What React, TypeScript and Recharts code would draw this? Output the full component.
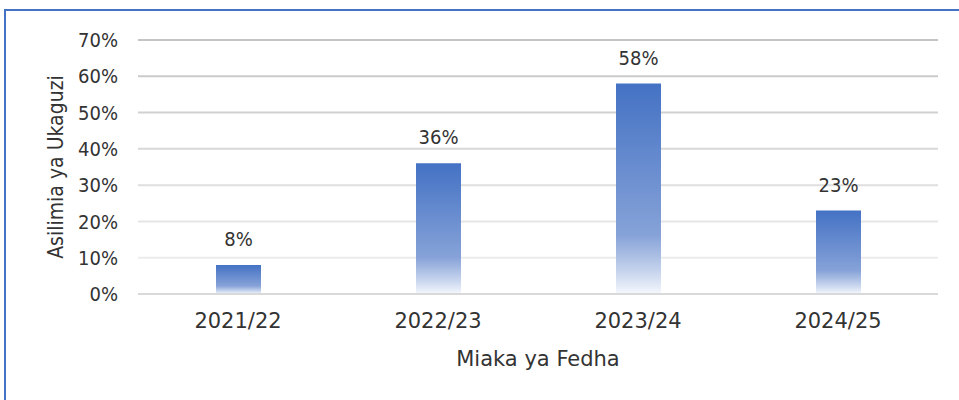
import { BarChart, Bar, XAxis, YAxis, CartesianGrid, LabelList, Label } from "recharts";

const years = ["2021/22", "2022/23", "2023/24", "2024/25"];
const auditPct = [8, 36, 58, 23];
const yTicks = [0, 10, 20, 30, 40, 50, 60, 70];

const data = years.map((y, i) => ({ year: y, pct: auditPct[i] }));

const NARROW = "'DejaVu Sans Condensed', 'DejaVu Sans', sans-serif";
const WIDE = "'DejaVu Sans', sans-serif";
const TEXT = "#333333";
const FRAME = "#4472C4";

export default function App() {
  return (
    <div style={{ position: "fixed", left: 0, top: 0, width: 959, height: 400, overflow: "hidden", background: "#fff" }}>
      {/* chart frame, only top and left edges are in view */}
      <div style={{ position: "absolute", left: 4, top: 9, width: 955, height: 2, background: FRAME }} />
      <div style={{ position: "absolute", left: 4, top: 9, width: 2, height: 391, background: FRAME }} />
      <div style={{ position: "absolute", left: 0, top: 0 }}>
        <BarChart width={959} height={400} data={data} margin={{ top: 40, right: 21, bottom: 76, left: 78 }}>
          <defs>
            <linearGradient id="barFill" x1="0" y1="0" x2="0" y2="1">
              <stop offset="0" stopColor="#4472C4" />
              <stop offset="0.72" stopColor="#86A2D8" />
              <stop offset="0.9" stopColor="#C9D6EE" />
              <stop offset="1" stopColor="#F5F8FD" />
            </linearGradient>
            <linearGradient id="gridStroke" gradientUnits="userSpaceOnUse" x1="0" y1="40" x2="0" y2="294">
              <stop offset="0" stopColor="#c4c4c4" />
              <stop offset="1" stopColor="#f2f2f2" />
            </linearGradient>
          </defs>
          <CartesianGrid vertical={false} stroke="url(#gridStroke)" strokeWidth={2} />
          <XAxis
            dataKey="year"
            axisLine={{ stroke: "#d9d9d9", strokeWidth: 2 }}
            tickLine={false}
            tickSize={0}
            tickMargin={19}
            height={30}
            tick={{ fill: TEXT, fontSize: 21, fontFamily: WIDE }}
          >
            <Label value="Miaka ya Fedha" position="bottom" offset={27} style={{ fill: TEXT, fontSize: 21, fontFamily: WIDE }} />
          </XAxis>
          <YAxis
            domain={[0, 70]}
            ticks={yTicks}
            tickFormatter={(v) => `${v}%`}
            axisLine={false}
            tickLine={false}
            tickSize={0}
            tickMargin={20}
            width={60}
            tick={{ fill: TEXT, fontSize: 20, fontFamily: NARROW }}
          >
            <Label
              value="Asilimia ya Ukaguzi"
              angle={-90}
              position="insideLeft"
              offset={-22}
              style={{ textAnchor: "middle", fill: TEXT, fontSize: 21, fontFamily: NARROW }}
            />
          </YAxis>
          <Bar dataKey="pct" fill="url(#barFill)" barSize={45} isAnimationActive={false}>
            <LabelList
              dataKey="pct"
              position="top"
              offset={19}
              formatter={(v: number) => `${v}%`}
              style={{ fill: TEXT, fontSize: 20, fontFamily: NARROW }}
            />
          </Bar>
        </BarChart>
      </div>
    </div>
  );
}
